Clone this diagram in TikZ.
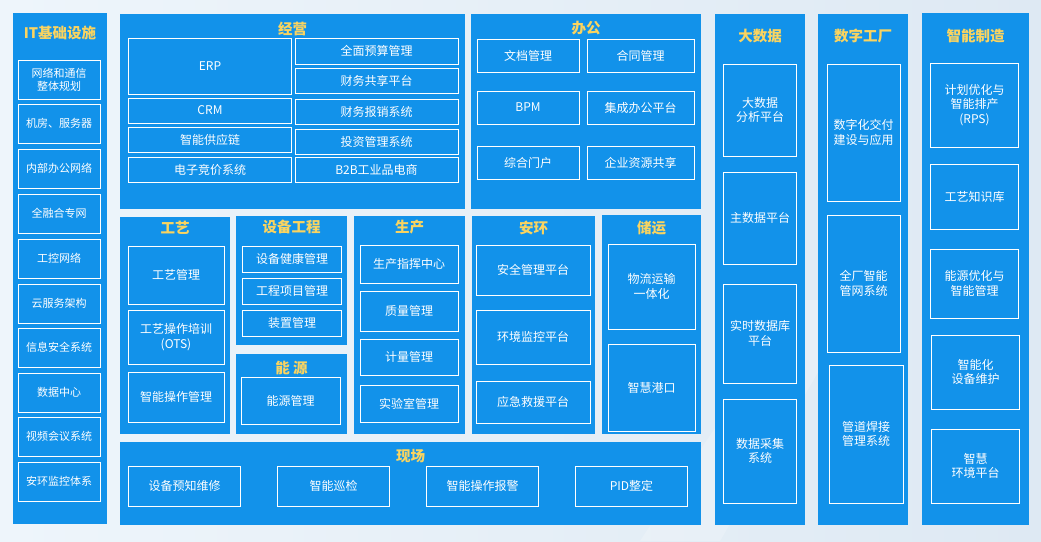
\documentclass[tikz,border=0pt]{standalone}
\usepackage{fontspec}
\newfontfamily\cjk{Noto Sans CJK SC}
\usetikzlibrary{positioning}
\definecolor{panelblue}{RGB}{18,146,234}
\definecolor{titlegold}{RGB}{250,212,96}
\definecolor{bgleft}{RGB}{238,245,251}
\definecolor{bgright}{RGB}{222,233,243}

\begin{document}
\begin{tikzpicture}[x=1pt, y=-1pt,
        panel/.style={
            rectangle, fill = panelblue, draw = none, inner sep = 0pt
        },
        heading/.style={
            inner sep = 0pt, text = titlegold, font = \cjk\bfseries\fontsize{14.5}{16}\selectfont
        },
        item/.style={
            rectangle, draw = white, line width = 0.9pt, fill = panelblue, text = white,
            inner sep = 0pt, align = center, font = \cjk\fontsize{12}{14.5}\selectfont
        },
        smallitem/.style={
            item, font = \cjk\fontsize{11}{13.3}\selectfont
        },
        boxsize/.style 2 args={minimum width = #1, minimum height = #2},
    ]
        \useasboundingbox (0,0) rectangle (1041,541);
        \shade[left color = bgleft, right color = bgright] (0,0) rectangle (1041,541);
        \fill[white, opacity = 0.2] (640,541) -- (800,300) -- (860,300) -- (720,541) -- cycle;

        % IT column
        \node (it) [panel,boxsize={94}{511}] at (60,268.5) {};
        \node (itT) [heading] at ([yshift=-20pt]it.north) {IT基础设施};
        \node (it1) [smallitem,boxsize={82}{39}] at (59,79.5) {网络和通信\\整体规划};
        \node (it2) [smallitem,boxsize={82}{39}] at (59,123.5) {机房、服务器};
        \node (it3) [smallitem,boxsize={82}{39}] at (59,168.5) {内部办公网络};
        \node (it4) [smallitem,boxsize={82}{39}] at (59,213.5) {全融合专网};
        \node (it5) [smallitem,boxsize={82}{39}] at (59,258.5) {工控网络};
        \node (it6) [smallitem,boxsize={82}{39}] at (59,303.5) {云服务架构};
        \node (it7) [smallitem,boxsize={82}{39}] at (59,347.5) {信息安全系统};
        \node (it8) [smallitem,boxsize={82}{39}] at (59,392.5) {数据中心};
        \node (it9) [smallitem,boxsize={82}{39}] at (59,436.5) {视频会议系统};
        \node (it10) [smallitem,boxsize={82}{39}] at (59,481.5) {安环监控体系};

        % jingying
        \node (jingying) [panel,boxsize={345}{195}] at (292.5,111.5) {};
        \node (jingyingT) [heading] at ([yshift=-15pt]jingying.north) {经营};
        \node (erp) [item,boxsize={163}{56}] at (210,66) {ERP};
        \node (crm) [item,boxsize={163}{25}] at (210,110.5) {CRM};
        \node (supply) [item,boxsize={163}{25}] at (210,139.5) {智能供应链};
        \node (bidding) [item,boxsize={163}{25}] at (210,169.5) {电子竞价系统};
        \node (budget) [item,boxsize={163}{26}] at (376.5,51) {全面预算管理};
        \node (finshare) [item,boxsize={163}{25}] at (376.5,80.5) {财务共享平台};
        \node (expense) [item,boxsize={163}{25}] at (376.5,111.5) {财务报销系统};
        \node (invest) [item,boxsize={163}{25}] at (376.5,141.5) {投资管理系统};
        \node (btob) [item,boxsize={163}{25}] at (376.5,169.5) {B2B工业品电商};

        % bangong
        \node (bangong) [panel,boxsize={230}{195}] at (586,111.5) {};
        \node (bangongT) [heading] at ([yshift=-14pt]bangong.north) {办公};
        \node (docs) [item,boxsize={102}{33}] at (528,55.5) {文档管理};
        \node (contract) [item,boxsize={107}{33}] at (640.5,55.5) {合同管理};
        \node (bpm) [item,boxsize={102}{33}] at (528,107.5) {BPM};
        \node (officeint) [item,boxsize={107}{33}] at (640.5,107.5) {集成办公平台};
        \node (portal) [item,boxsize={102}{33}] at (528,162.5) {综合门户};
        \node (resshare) [item,boxsize={107}{33}] at (640.5,162.5) {企业资源共享};

        % gongyi
        \node (gongyi) [panel,boxsize={110}{217}] at (175,325.5) {};
        \node (gongyiT) [heading] at ([yshift=-11pt]gongyi.north) {工艺};
        \node (gymgmt) [item,boxsize={96}{58}] at (176,275) {工艺管理};
        \node (ots) [item,boxsize={96}{54}] at (176,337) {工艺操作培训\\(OTS)};
        \node (smartop) [item,boxsize={96}{50}] at (176,397) {智能操作管理};

        % shebei gongcheng
        \node (shebei) [panel,boxsize={111}{129}] at (291.5,280.5) {};
        \node (shebeiT) [heading] at ([yshift=-11pt]shebei.north) {设备工程};
        \node (health) [item,boxsize={99}{26}] at (292,259) {设备健康管理};
        \node (project) [item,boxsize={99}{26}] at (292,291) {工程项目管理};
        \node (device) [item,boxsize={99}{26}] at (292,323) {装置管理};

        % nengyuan
        \node (nengyuan) [panel,boxsize={111}{80}] at (291.5,394) {};
        \node (nengyuanT) [heading] at ([yshift=-14pt]nengyuan.north) {能 源};
        \node (energy) [item,boxsize={99}{47}] at (290.5,400.5) {能源管理};

        % shengchan
        \node (shengchan) [panel,boxsize={111}{218}] at (409.5,325) {};
        \node (shengchanT) [heading] at ([yshift=-11pt]shengchan.north) {生产};
        \node (command) [item,boxsize={98}{38}] at (409,264) {生产指挥中心};
        \node (quality) [item,boxsize={98}{40}] at (409,311) {质量管理};
        \node (metering) [item,boxsize={98}{36}] at (409,357) {计量管理};
        \node (lab) [item,boxsize={98}{37}] at (409,403.5) {实验室管理};

        % anhuan
        \node (anhuan) [panel,boxsize={123}{218}] at (533.5,325) {};
        \node (anhuanT) [heading] at ([yshift=-12pt]anhuan.north) {安环};
        \node (safety) [item,boxsize={114}{50}] at (533,270) {安全管理平台};
        \node (envmon) [item,boxsize={114}{54}] at (533,337) {环境监控平台};
        \node (rescue) [item,boxsize={114}{42}] at (533,402) {应急救援平台};

        % chuyun
        \node (chuyun) [panel,boxsize={99}{219}] at (651.5,324.5) {};
        \node (chuyunT) [heading] at ([yshift=-13pt]chuyun.north) {储运};
        \node (logistics) [item,boxsize={87}{85}] at (651.5,286.5) {物流运输\\一体化};
        \node (port) [item,boxsize={87}{87}] at (651.5,387.5) {智慧港口};

        % xianchang
        \node (xianchang) [panel,boxsize={581}{83}] at (410.5,483.5) {};
        \node (xianchangT) [heading] at ([yshift=-14pt]xianchang.north) {现场};
        \node (predict) [item,boxsize={112}{40}] at (184.5,486) {设备预知维修};
        \node (patrol) [item,boxsize={112}{40}] at (333.5,486) {智能巡检};
        \node (alarm) [item,boxsize={112}{40}] at (482.5,486) {智能操作报警};
        \node (pid) [item,boxsize={112}{40}] at (631.5,486) {PID整定};

        % dashuju
        \node (dashuju) [panel,boxsize={90}{511}] at (760,269.5) {};
        \node (dashujuT) [heading] at ([yshift=-22pt]dashuju.north) {大数据};
        \node (analysis) [item,boxsize={73}{92}] at (760,110) {大数据\\分析平台};
        \node (masterdata) [item,boxsize={73}{92}] at (760,218) {主数据平台};
        \node (realtime) [item,boxsize={73}{99}] at (760,333.5) {实时数据库\\平台};
        \node (acquire) [item,boxsize={73}{104}] at (760,451) {数据采集\\系统};

        % shuzi gongchang
        \node (shuzigc) [panel,boxsize={90}{511}] at (863,269.5) {};
        \node (shuzigcT) [heading] at ([yshift=-22pt]shuzigc.north) {数字工厂};
        \node (delivery) [item,boxsize={73}{137}] at (863.5,132.5) {数字化交付\\建设与应用};
        \node (pipenet) [item,boxsize={73}{137}] at (863.5,283.5) {全厂智能\\管网系统};
        \node (welding) [item,boxsize={74}{138}] at (866,434) {管道焊接\\管理系统};

        % zhineng zhizao
        \node (zhinengzz) [panel,boxsize={107}{512}] at (975.5,269) {};
        \node (zhinengzzT) [heading] at ([yshift=-23pt]zhinengzz.north) {智能制造};
        \node (rps) [item,boxsize={88}{84}] at (974.5,105) {计划优化与\\智能排产\\(RPS)};
        \node (knowledge) [item,boxsize={88}{65}] at (974.5,196.5) {工艺知识库};
        \node (energyopt) [item,boxsize={88}{69}] at (974.5,283.5) {能源优化与\\智能管理};
        \node (maintain) [item,boxsize={88}{74}] at (975.5,372) {智能化\\设备维护};
        \node (envplat) [item,boxsize={88}{74}] at (975.5,466) {智慧\\环境平台};

    \end{tikzpicture}
\end{document}
